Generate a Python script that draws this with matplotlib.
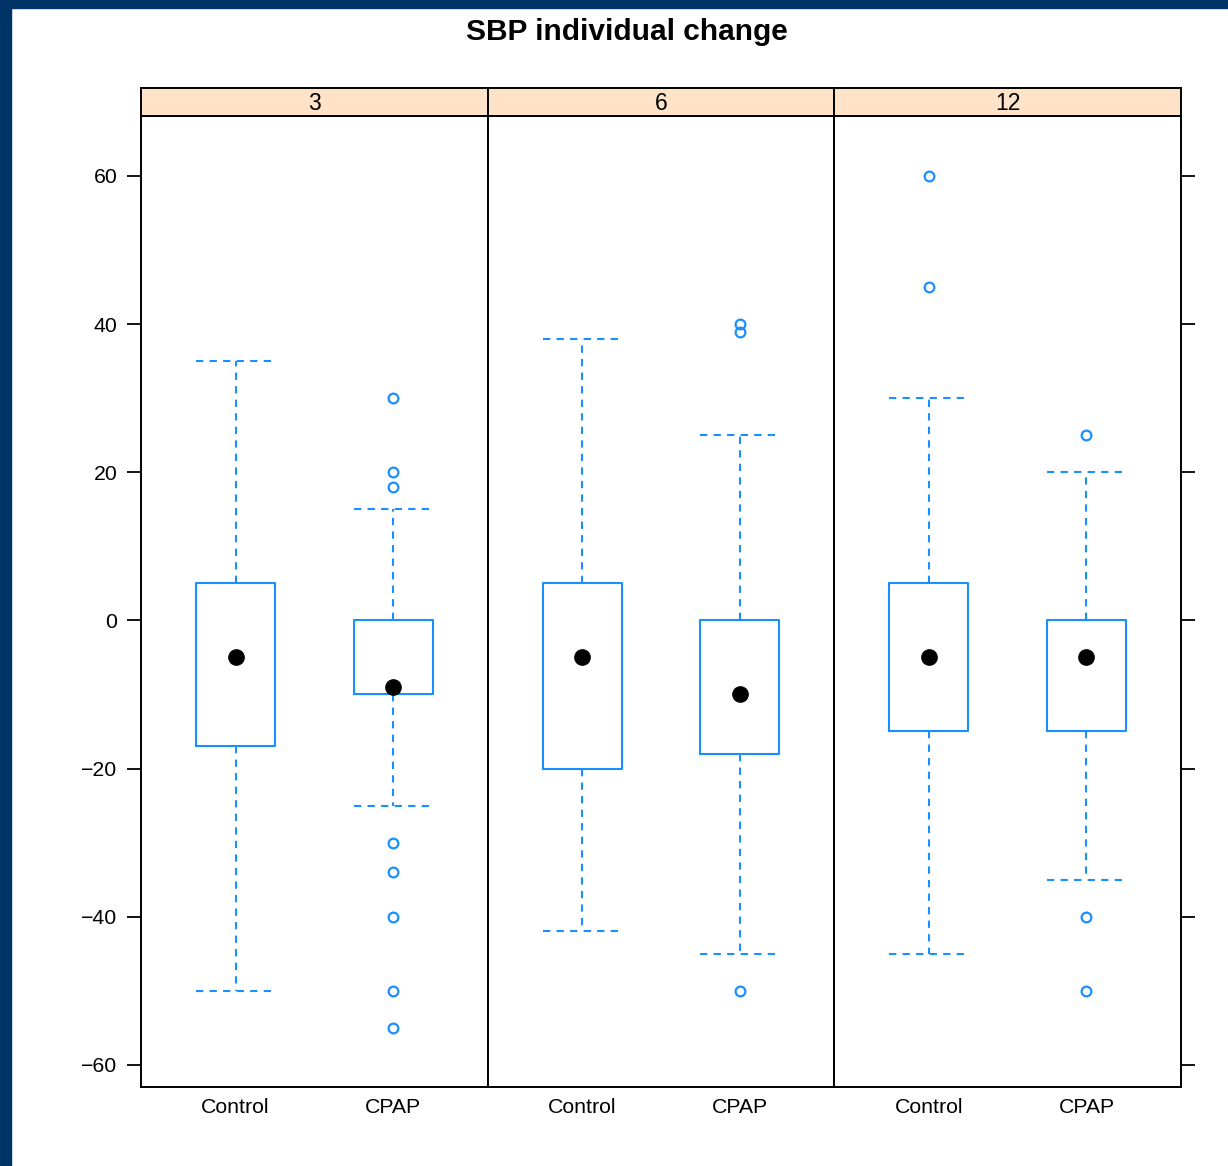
import numpy as np
import matplotlib
matplotlib.use("Agg")
import matplotlib.pyplot as plt
from matplotlib.patches import Rectangle

plt.rcParams['font.family'] = ['Liberation Sans', 'DejaVu Sans']

# --- data ---
panels = ['3', '6', '12']
groups = ['Control', 'CPAP']

# per panel: [Control, CPAP]
whisk_lo = [[-50, -25], [-42, -45], [-45, -35]]
q1 = [[-17, -10], [-20, -18], [-15, -15]]
medians = [[-5, -9], [-5, -10], [-5, -5]]
q3 = [[5, 0], [5, 0], [5, 0]]
whisk_hi = [[35, 15], [38, 25], [30, 20]]
outliers = [
    [[], [30, 20, 18, -30, -34, -40, -50, -55]],
    [[], [40, 39, -50]],
    [[60, 45], [25, -40, -50]],
]

blue = '#1a8fff'
fig = plt.figure(figsize=(12.28, 11.66), dpi=100)

# dark frame on top/left edges
fig.patches.append(Rectangle((0, 0), 11 / 1228, 1, transform=fig.transFigure,
                             color='#003366', zorder=0))
fig.patches.append(Rectangle((0, 1 - 8 / 1166), 1, 8 / 1166, transform=fig.transFigure,
                             color='#003366', zorder=0))

fig.text(627 / 1228, 1 - 32 / 1166, 'SBP individual change', ha='center', va='center',
         fontsize=21.5, fontweight='bold')

W, H = 1228, 1166
x0, pw = 141, (1181 - 141) / 3
ybot, ytop, stop = 1087, 116, 88

for i, p in enumerate(panels):
    left = (x0 + i * pw) / W
    ax = fig.add_axes([left, (H - ybot) / H, pw / W, (ybot - ytop) / H])
    sax = fig.add_axes([left, (H - ytop) / H, pw / W, (ytop - stop) / H])

    stats = []
    for j, g in enumerate(groups):
        stats.append(dict(med=medians[i][j], q1=q1[i][j], q3=q3[i][j],
                          whislo=whisk_lo[i][j], whishi=whisk_hi[i][j],
                          fliers=outliers[i][j], label=g))
    ax.bxp(stats, positions=[1, 2], widths=0.5, capwidths=0.5,
           boxprops=dict(color=blue, linewidth=1.5),
           whiskerprops=dict(color=blue, linewidth=1.5, linestyle=(0, (3.5, 3))),
           capprops=dict(color=blue, linewidth=1.5, linestyle=(0, (3.5, 3))),
           medianprops=dict(visible=False),
           flierprops=dict(marker='o', markersize=7, markerfacecolor='none',
                           markeredgecolor=blue, markeredgewidth=1.6))
    ax.plot([1, 2], medians[i], 'o', color='black', markersize=11, zorder=5)

    ax.set_xlim(0.4, 2.6)
    ax.set_ylim(-63, 68.1)
    ax.set_xticks([1, 2])
    ax.set_xticklabels(groups)
    ax.tick_params(axis='x', length=0, pad=8, labelsize=15.3)
    ax.set_yticks([-60, -40, -20, 0, 20, 40, 60])
    ax.set_yticklabels(['\u221260', '\u221240', '\u221220', '0', '20', '40', '60'])
    if i == 0:
        ax.tick_params(axis='y', direction='out', length=10, width=1.3, pad=7, labelsize=15.3)
    elif i == 2:
        ax.tick_params(axis='y', left=False, labelleft=False, right=True,
                       direction='out', length=10, width=1.3)
    else:
        ax.tick_params(axis='y', left=False, labelleft=False)
    for s in ax.spines.values():
        s.set_linewidth(1.4)

    sax.set_facecolor('#ffe3c8')
    sax.set_xticks([])
    sax.set_yticks([])
    for s in sax.spines.values():
        s.set_linewidth(1.4)
    sax.text(0.5, 0.45, p, transform=sax.transAxes, ha='center', va='center', fontsize=16.5)

fig.savefig('out.png', dpi=100)
